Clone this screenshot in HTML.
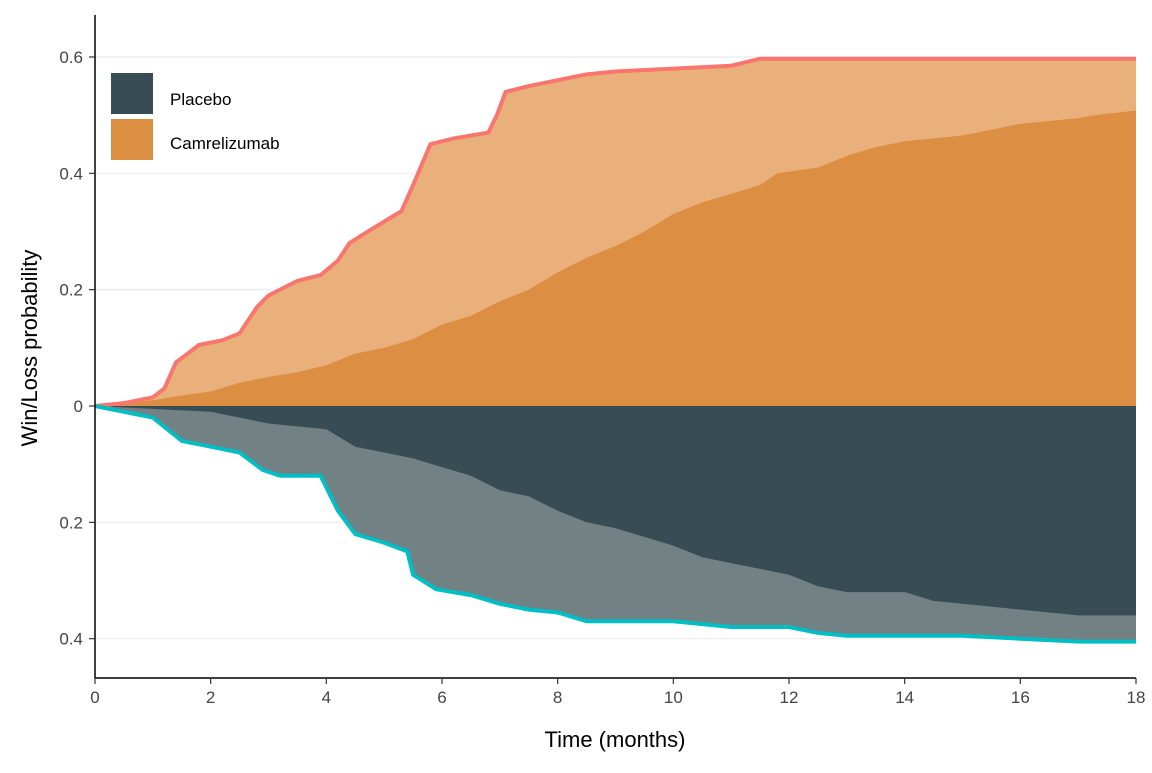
<!DOCTYPE html>
<html><head><meta charset="utf-8"><style>
html,body{margin:0;padding:0;background:#fff;}
svg text{font-family:"Liberation Sans",Arial,sans-serif;}
</style></head><body>
<svg id="chart" width="1152" height="768" viewBox="0 0 1152 768"></svg>
<script>
const winOuterT=[0,0.5,1,1.2,1.4,1.8,2.2,2.5,2.8,3,3.5,3.9,4.2,4.4,4.8,5.3,5.5,5.8,6.2,6.8,6.95,7.1,7.5,8,8.5,9,10,11,11.5,18];
const winOuterV=[0,0.005,0.015,0.03,0.075,0.105,0.113,0.125,0.17,0.19,0.215,0.225,0.25,0.28,0.305,0.335,0.38,0.45,0.46,0.47,0.5,0.54,0.55,0.56,0.57,0.575,0.58,0.585,0.597,0.597];
const winInnerT=[0,1,1.5,2,2.5,3,3.5,4,4.5,5,5.5,6,6.5,7,7.5,8,8.5,9,9.5,10,10.5,11,11.5,11.8,12.5,13,13.5,14,15,16,17,17.3,18];
const winInnerV=[0,0.01,0.018,0.025,0.04,0.05,0.058,0.07,0.09,0.1,0.115,0.14,0.155,0.18,0.2,0.23,0.255,0.275,0.3,0.33,0.35,0.365,0.38,0.4,0.41,0.43,0.445,0.455,0.465,0.485,0.495,0.5,0.508];
const lossOuterT=[0,1,1.5,2,2.5,2.9,3.2,3.9,4.2,4.5,5,5.4,5.5,5.9,6.5,7,7.5,8,8.5,10,11,12,12.5,13,15,16,17,18];
const lossOuterV=[0,0.02,0.06,0.07,0.08,0.11,0.12,0.12,0.18,0.22,0.235,0.25,0.29,0.315,0.325,0.34,0.35,0.355,0.37,0.37,0.38,0.38,0.39,0.395,0.395,0.4,0.405,0.405];
const lossInnerT=[0,1,2,3,4,4.5,5,5.5,6,6.5,7,7.5,8,8.5,9,9.5,10,10.5,11,11.5,12,12.5,13,14,14.5,15,16,17,18];
const lossInnerV=[0,0.005,0.01,0.03,0.04,0.07,0.08,0.09,0.105,0.12,0.145,0.155,0.18,0.2,0.21,0.225,0.24,0.26,0.27,0.28,0.29,0.31,0.32,0.32,0.335,0.34,0.35,0.36,0.36];
const xTicks=[0,2,4,6,8,10,12,14,16,18];
const yTicks=[-0.4,-0.2,0,0.2,0.4,0.6];
const yTickLabels=["0.4","0.2","0","0.2","0.4","0.6"];

const X=t=>95+t*(1136-95)/18;
const Y=v=>406-v*581.7;
const NS="http://www.w3.org/2000/svg";
const svg=document.getElementById('chart');
function el(tag,attrs,name){const e=document.createElementNS(NS,tag);for(const k in attrs)e.setAttribute(k,attrs[k]);


svg.appendChild(e);return e;}
yTicks.forEach((v,i)=>{if(v!==0){el('line',{x1:95,x2:1136,y1:Y(v),y2:Y(v),stroke:'#ebebeb','stroke-width':1.2},'grid-line');}});
function pts(T,V,sign){return T.map((t,i)=>X(t).toFixed(1)+','+Y(sign*V[i]).toFixed(1));}
function area(T,V,sign,fill,name){const p=pts(T,V,sign);p.push(X(T[T.length-1])+','+Y(0),X(0)+','+Y(0));el('polygon',{points:p.join(' '),fill:fill},name);}
area(winOuterT,winOuterV,1,'#E9B07B','win-outer-area');
area(winInnerT,winInnerV,1,'#DC8E43','camrelizumab-win-area');
area(lossOuterT,lossOuterV,-1,'#728184','loss-outer-area');
area(lossInnerT,lossInnerV,-1,'#384C53','placebo-win-area');
el('polyline',{points:pts(winOuterT,winOuterV,1).join(' '),fill:'none',stroke:'#F8766D','stroke-width':4},'win-outer-line');
el('polyline',{points:pts(lossOuterT,lossOuterV,-1).join(' '),fill:'none',stroke:'#00BFC4','stroke-width':4},'loss-outer-line');
el('line',{x1:95,x2:95,y1:15,y2:678,stroke:'#000','stroke-width':1.5},'y-axis-line');
el('line',{x1:95,x2:1136,y1:678,y2:678,stroke:'#000','stroke-width':1.5},'x-axis-line');
xTicks.forEach(t=>{el('line',{x1:X(t),x2:X(t),y1:678,y2:684,stroke:'#333','stroke-width':1.2},'x-tick');
const tx=el('text',{x:X(t),y:703,'text-anchor':'middle','font-size':17,fill:'#444'},'x-tick-label');tx.textContent=t;});
yTicks.forEach((v,i)=>{el('line',{x1:89,x2:95,y1:Y(v),y2:Y(v),stroke:'#333','stroke-width':1.2},'y-tick');
const tx=el('text',{x:83,y:Y(v)+6,'text-anchor':'end','font-size':17,fill:'#444'},'y-tick-label');tx.textContent=yTickLabels[i];});
const xt=el('text',{x:615,y:747,'text-anchor':'middle','font-size':22,fill:'#000'},'x-axis-title');xt.textContent='Time (months)';
const yt=el('text',{x:0,y:0,'text-anchor':'middle','font-size':22,fill:'#000',transform:'translate(37,348) rotate(-90)'},'y-axis-title');yt.textContent='Win/Loss probability';
el('rect',{x:111,y:73,width:42,height:41,fill:'#384C53'},'legend-swatch-placebo');
el('rect',{x:111,y:119,width:42,height:41,fill:'#DC8E43'},'legend-swatch-camrelizumab');
const l1=el('text',{x:170,y:105,'font-size':17,fill:'#000'},'legend-label-placebo');l1.textContent='Placebo';
const l2=el('text',{x:170,y:149,'font-size':17,fill:'#000'},'legend-label-camrelizumab');l2.textContent='Camrelizumab';
</script>
</body></html>
